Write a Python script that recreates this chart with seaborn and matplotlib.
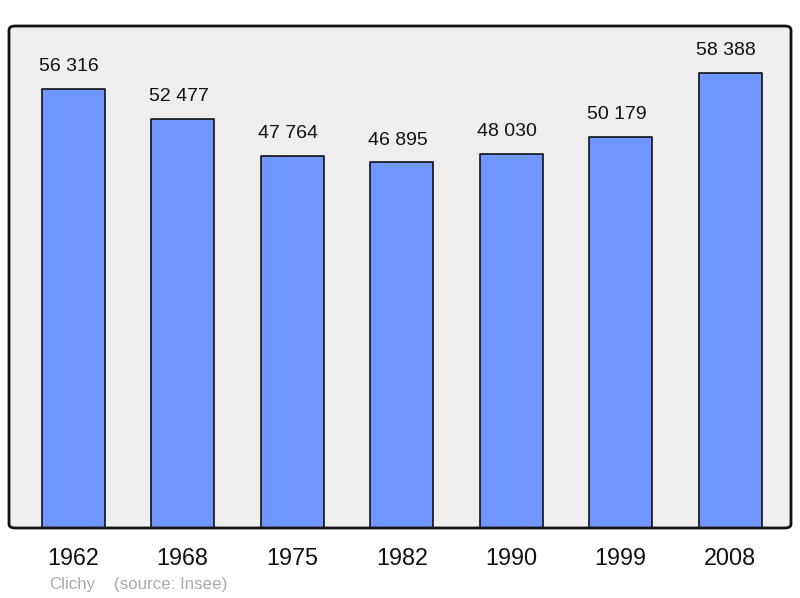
import pandas as pd
import matplotlib.pyplot as plt
import seaborn as sns
from matplotlib.patches import FancyBboxPatch

# Population data
years = ['1962', '1968', '1975', '1982', '1990', '1999', '2008']
population = [56316, 52477, 47764, 46895, 48030, 50179, 58388]
value_labels = ['56 316', '52 477', '47 764', '46 895', '48 030', '50 179', '58 388']

df = pd.DataFrame({'year': years, 'population': population})

sns.set_style('white')
plt.rcParams['font.family'] = ['Liberation Sans', 'DejaVu Sans']

fig = plt.figure(figsize=(8, 5.98), dpi=100)
ax = fig.add_axes([9 / 800, 70 / 598, 782 / 800, 502 / 598])

sns.barplot(data=df, x='year', y='population', color='#7097ff', saturation=1,
            width=0.575, edgecolor='#111111', linewidth=1.2, ax=ax, zorder=2)

for bar in ax.patches:
    bar.set_joinstyle('round')

# value labels above each bar
for i, (v, txt) in enumerate(zip(population, value_labels)):
    ax.annotate(txt, (i, v), xytext=(-3, 10), textcoords='offset points',
                ha='center', va='bottom', fontsize=14, color='#111111')

ax.set_xlim(-0.586, 6.555)
ax.set_ylim(0, 64400)
ax.set_xlabel('')
ax.set_ylabel('')
ax.set_yticks([])
ax.tick_params(axis='x', length=0, pad=14, labelsize=16.8, labelcolor='#111111')

# rounded frame and background
ax.patch.set_visible(False)
for s in ax.spines.values():
    s.set_visible(False)
bg = FancyBboxPatch((0, 0), 1, 1, boxstyle='round,pad=0,rounding_size=0.008',
                    transform=ax.transAxes, facecolor='#eeeeee', edgecolor='none',
                    zorder=0, clip_on=False)
frame = FancyBboxPatch((0, 0), 1, 1, boxstyle='round,pad=0,rounding_size=0.008',
                       transform=ax.transAxes, facecolor='none', edgecolor='#111111',
                       linewidth=2, zorder=5, clip_on=False)
ax.add_patch(bg)
ax.add_patch(frame)

fig.text(49 / 800, 1 - 584 / 598, 'Clichy', fontsize=12.2, color='#aaaaaa', va='center')
fig.text(114 / 800, 1 - 584 / 598, '(source: Insee)', fontsize=12.2, color='#aaaaaa', va='center')

fig.savefig('out.png', dpi=100)
